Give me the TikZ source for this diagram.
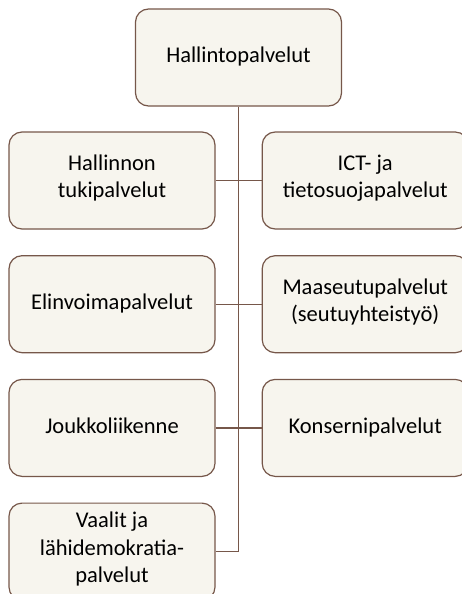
\documentclass[tikz,border=0pt]{standalone}
\usepackage{fontspec}
\setmainfont{Carlito}
\usetikzlibrary{positioning}
\definecolor{boxfill}{HTML}{F7F5EE}
\definecolor{boxline}{HTML}{76574A}
\tikzset {
    unit box/.style={
        fill=boxfill,
        draw=boxline,
        line width=1.2pt,
        rectangle, % Set the shape as a rectangle
        rounded corners=13pt,
        minimum width=206pt,
        minimum height=97pt,
        align=center,
        text=black,
        execute at begin node=\strut,
        execute at end node=\strut,
    },
    link/.style={
        draw=boxline,
        line width=1.2pt,
    },
}
\begin{document}
\begin{tikzpicture}
        [font=\fontsize{22.5}{27.5}\selectfont, node distance=25.5pt and 46pt]
        \useasboundingbox (0,0) rectangle (462pt,-594pt);
        \node[unit box] (hallinto) at (238.5pt,-57.5pt) {Hallintopalvelut};
        \node[unit box] (tuki) at (112pt,-180.5pt) {Hallinnon\\tukipalvelut};
        \node[unit box, right=of tuki] (ict) {ICT- ja\\tietosuojapalvelut};
        \node[unit box, below=of tuki] (elinvoima) {Elinvoimapalvelut};
        \node[unit box, right=of elinvoima] (maaseutu) {Maaseutupalvelut\\(seutuyhteistyö)};
        \node[unit box, below=of elinvoima] (joukko) {Joukkoliikenne};
        \node[unit box, right=of joukko] (konserni) {Konsernipalvelut};
        \node[unit box, below=of joukko] (vaalit) {Vaalit ja\\lähidemokratia-\\palvelut};
        % trunk
        \coordinate (trunkend) at (hallinto.south |- vaalit.east);
        \draw[link] (hallinto.south) -- (trunkend);
        % branches
        \draw[link] (tuki.east) -- (ict.west);
        \draw[link] (elinvoima.east) -- (maaseutu.west);
        \draw[link] (joukko.east) -- (konserni.west);
        \draw[link] (vaalit.east) -- (trunkend);
\end{tikzpicture}
\end{document}
